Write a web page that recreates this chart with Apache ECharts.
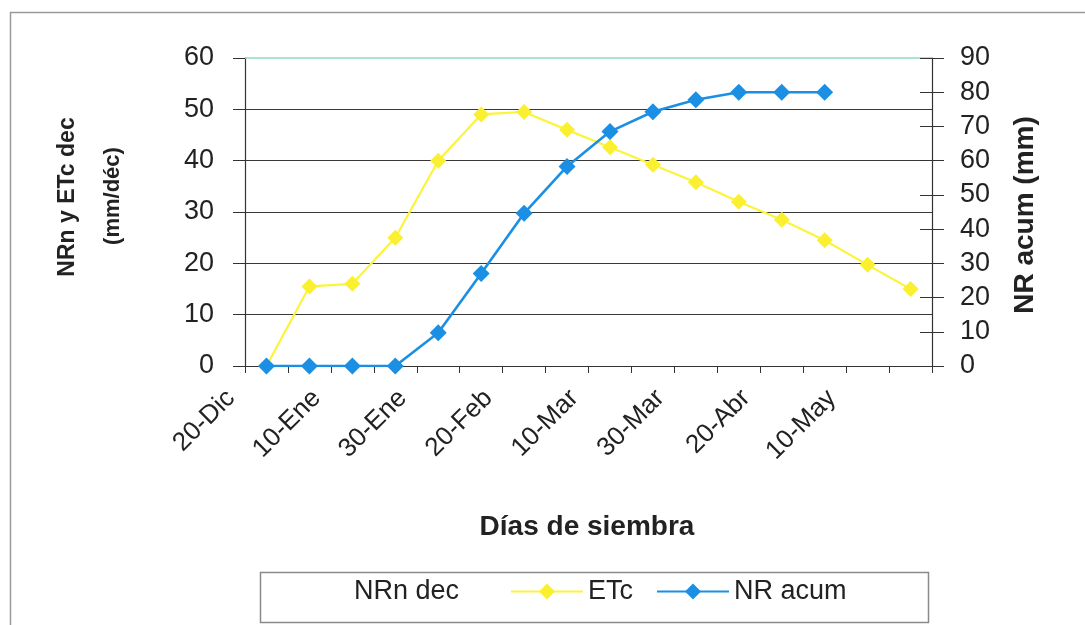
<!DOCTYPE html>
<html>
<head>
<meta charset="utf-8">
<script src="https://cdn.jsdelivr.net/npm/echarts@6/dist/echarts.min.js"></script>
<style>
  html, body { margin: 0; padding: 0; background: #ffffff; }
  #chart { width: 1085px; height: 625px; }
</style>
</head>
<body>
<div id="chart"></div>
<script>
// Décadas (periodos de 10 días) desde la siembra
const decadas = ['20-Dic', '31-Dic', '10-Ene', '20-Ene', '30-Ene', '10-Feb', '20-Feb', '28-Feb',
                 '10-Mar', '20-Mar', '30-Mar', '10-Abr', '20-Abr', '30-Abr', '10-May', '20-May'];
// Etiquetas del eje X (una cada dos décadas)
const fechasEje = ['20-Dic', '10-Ene', '30-Ene', '20-Feb', '10-Mar', '30-Mar', '20-Abr', '10-May'];
// Marcas de los ejes
const ticksIzq = [0, 10, 20, 30, 40, 50, 60];
const ticksDer = [0, 10, 20, 30, 40, 50, 60, 70, 80, 90];

// Series (mm/década y mm acumulados)
const nrnDec = [];
const etc = [0, 15.5, 16, 25, 40, 49, 49.5, 46, 42.6, 39.2, 35.8, 32, 28.5, 24.5, 19.7, 15];
const nrAcum = [0, 0, 0, 0, 9.7, 27, 44.6, 58.3, 68.5, 74.3, 77.8, 80, 80, 80];

const FONT = '"Liberation Sans", Arial, sans-serif';
const AMARILLO = '#FAF030';
const AZUL = '#1A8FE3';
const GRIS = '#333333';

const chart = echarts.init(document.getElementById('chart'), null, { renderer: 'canvas' });

const legendBase = {
  top: 578,
  itemWidth: 72,
  itemHeight: 20,
  itemGap: 10,
  selectedMode: false,
  textStyle: { fontFamily: FONT, fontSize: 27, color: '#222' },
  padding: 0
};

chart.setOption({
  backgroundColor: '#ffffff',
  animation: false,
  grid: {
    left: 245, right: 153, top: 58, bottom: 259,
    containLabel: false,
    outerBoundsMode: 'none'
  },
  legend: [
    Object.assign({}, legendBase, { left: 276, data: ['NRn dec'] }),
    Object.assign({}, legendBase, { left: 510, data: ['ETc'] }),
    Object.assign({}, legendBase, { left: 656, data: ['NR acum'] })
  ],
  xAxis: [
    {
      type: 'category',
      data: decadas,
      boundaryGap: true,
      position: 'bottom',
      axisLine: { onZero: false, lineStyle: { color: GRIS, width: 1.2 } },
      axisTick: { inside: true, length: 6, interval: 0, lineStyle: { color: GRIS } },
      axisLabel: { show: false },
      splitLine: { show: false }
    },
    {
      // eje auxiliar: marcas exteriores y etiquetas de fecha en los límites de década
      type: 'value',
      min: 0,
      max: decadas.length,
      interval: 1,
      position: 'bottom',
      axisLine: { show: false, onZero: false },
      axisTick: { show: true, length: 7, lineStyle: { color: GRIS } },
      splitLine: { show: false },
      axisLabel: {
        rotate: 45,
        margin: 14,
        padding: [0, 20, 0, 0],
        fontFamily: FONT,
        fontSize: 26,
        color: '#222',
        showMinLabel: true,
        showMaxLabel: true,
        formatter: function (v) {
          return v % 2 === 0 ? (fechasEje[v / 2] || '') : '';
        }
      }
    },
    {
      // borde superior del área de trazado
      type: 'category',
      data: decadas,
      position: 'top',
      axisLine: { onZero: false, lineStyle: { color: '#8fd9c6', width: 1.5 } },
      axisTick: { show: false },
      axisLabel: { show: false },
      splitLine: { show: false }
    }
  ],
  yAxis: [
    {
      type: 'value',
      min: ticksIzq[0],
      max: ticksIzq[ticksIzq.length - 1],
      interval: 10,
      position: 'left',
      axisLine: { show: true, onZero: false, lineStyle: { color: GRIS, width: 1.2 } },
      axisTick: { show: true, length: 12, lineStyle: { color: GRIS } },
      axisLabel: { margin: 31, fontFamily: FONT, fontSize: 27, color: '#222' },
      splitLine: { show: true, showMaxLine: false, lineStyle: { color: '#383838', width: 1.1 } }
    },
    {
      type: 'value',
      min: ticksDer[0],
      max: ticksDer[ticksDer.length - 1],
      interval: 10,
      position: 'right',
      axisLine: { show: true, onZero: false, lineStyle: { color: GRIS, width: 1.2 } },
      axisTick: { show: true, length: 12, lineStyle: { color: GRIS } },
      axisLabel: { margin: 28, fontFamily: FONT, fontSize: 27, color: '#222' },
      splitLine: { show: false }
    },
    {
      // marcas interiores del eje derecho
      type: 'value',
      min: ticksDer[0],
      max: ticksDer[ticksDer.length - 1],
      interval: 10,
      position: 'right',
      axisLine: { show: false, onZero: false },
      axisTick: { show: true, inside: true, length: 12, lineStyle: { color: GRIS } },
      axisLabel: { show: false },
      splitLine: { show: false }
    }
  ],
  series: [
    {
      name: 'NRn dec',
      type: 'line',
      yAxisIndex: 0,
      data: nrnDec,
      symbol: 'none',
      itemStyle: { color: 'rgba(0,0,0,0)' },
      lineStyle: { color: 'rgba(0,0,0,0)' }
    },
    {
      name: 'ETc',
      type: 'line',
      yAxisIndex: 0,
      data: etc,
      symbol: 'diamond',
      symbolSize: 16,
      itemStyle: { color: AMARILLO },
      lineStyle: { color: '#FCF43C', width: 2.2 },
      z: 3
    },
    {
      name: 'NR acum',
      type: 'line',
      yAxisIndex: 1,
      data: nrAcum,
      symbol: 'diamond',
      symbolSize: 17,
      itemStyle: { color: AZUL },
      lineStyle: { color: AZUL, width: 2.6 },
      z: 4
    }
  ],
  graphic: [
    {
      // marco exterior del gráfico
      type: 'rect',
      shape: { x: 10.5, y: 12.5, width: 1200, height: 800 },
      style: { fill: 'none', stroke: '#9a9a9a', lineWidth: 1.5 },
      silent: true
    },
    {
      // recuadro de la leyenda
      type: 'rect',
      shape: { x: 260.5, y: 572.5, width: 668, height: 50 },
      style: { fill: 'none', stroke: '#8a8a8a', lineWidth: 1.5 },
      silent: true
    },
    {
      type: 'text',
      x: 68, y: 197,
      rotation: Math.PI / 2,
      style: {
        text: 'NRn y ETc dec',
        font: 'bold 23px ' + FONT,
        fill: '#222',
        textAlign: 'center',
        textVerticalAlign: 'middle'
      }
    },
    {
      type: 'text',
      x: 113, y: 196,
      rotation: Math.PI / 2,
      style: {
        text: '(mm/déc)',
        font: 'bold 22px ' + FONT,
        fill: '#222',
        textAlign: 'center',
        textVerticalAlign: 'middle'
      }
    },
    {
      type: 'text',
      x: 1025, y: 215,
      rotation: Math.PI / 2,
      style: {
        text: 'NR acum (mm)',
        font: 'bold 28px ' + FONT,
        fill: '#222',
        textAlign: 'center',
        textVerticalAlign: 'middle'
      }
    },
    {
      type: 'text',
      x: 587, y: 527,
      style: {
        text: 'Días de siembra',
        font: 'bold 28px ' + FONT,
        fill: '#222',
        textAlign: 'center',
        textVerticalAlign: 'middle'
      }
    }
  ]
});
</script>
</body>
</html>
